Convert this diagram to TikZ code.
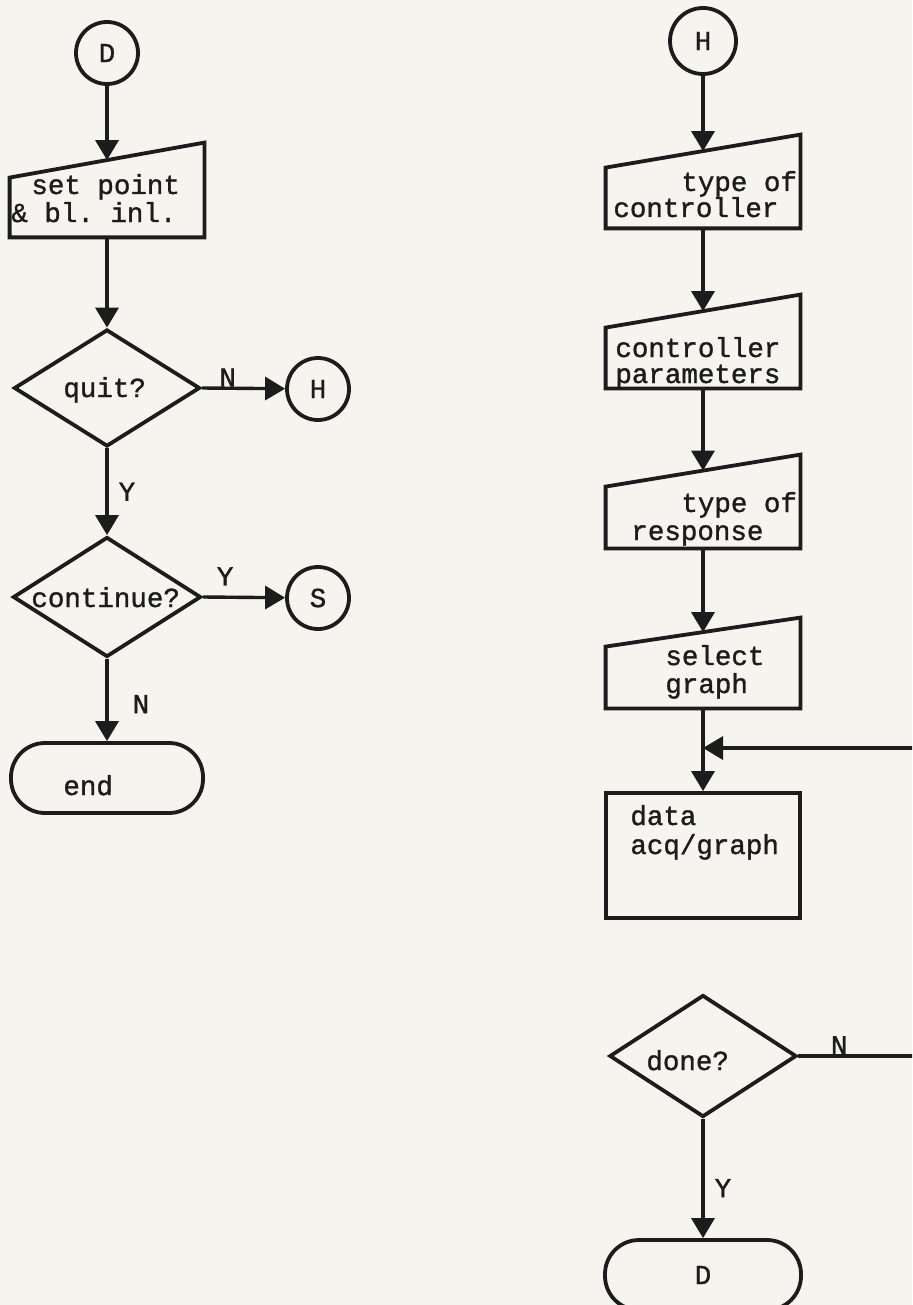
\documentclass[tikz,border=0pt]{standalone}
\usepackage{fontspec}
\usetikzlibrary{shapes.geometric,arrows.meta,calc}
\newfontfamily\typewriter{Liberation Mono}[FakeBold=1.2]
\definecolor{paper}{RGB}{245,244,238}
\definecolor{ink}{RGB}{28,28,28}
\begin{document}
\begin{tikzpicture}[x=0.5pt,y=-0.5pt,
  tw/.style={font=\typewriter\fontsize{13.75pt}{13.5pt}\selectfont, text=ink},
  conn/.style={draw=ink, line width=1.7pt, -{Triangle[length=10pt,width=11.5pt]}},
  shp/.style={draw=ink, line width=1.9pt},
  connector/.style={shp, circle, inner sep=0, minimum size=31pt, tw},
  decision/.style={shp, diamond, inner sep=0},
  terminal/.style={shp, rectangle, rounded corners=17pt, inner sep=0,
                   minimum width=96pt, minimum height=35pt, tw},
  inbox/.style={rectangle, inner sep=0, minimum width=97pt},
  txt/.style={tw, inner sep=0, anchor=base west},
  lbl/.style={tw, inner sep=0}]

% page
\fill[paper] (0,0) rectangle (912,1305);
\useasboundingbox (0,0) rectangle (912,1305);
\clip (0,0) rectangle (912,1305);

% ---------------- left column ----------------
\node[connector] (cD) at (107,53) {D};

% manual input: set point
\node[inbox, minimum height=29.5pt] (t0) at (107,207.5) {};
\draw[shp] (t0.south west) -- (t0.south east) -- ($(t0.north east)+(0,-35)$)
  -- (t0.north west) -- cycle;
\coordinate (t0in) at ($(t0.north)+(0,-17.5)$);
\node[txt] (t0a) at (31,194) {set point};
\node[txt] (t0b) at (11,222) {\&\ bl.\ inl.};

\node[decision, minimum width=93pt, minimum height=58.5pt] (quit) at (107,388) {};
\node[txt] (quitt) at (63,397) {quit?};
\node[connector] (cH1) at (318,389) {H};

\node[decision, minimum width=94pt, minimum height=60pt] (cont) at (107,597) {};
\node[txt] (contt) at (31,607) {continue?};
\node[connector] (cS) at (318,598) {S};

\node[terminal] (endT) at (107,778) {};
\node[txt] (endt) at (63,795) {end};

\draw[conn] (cD) -- (t0in);
\draw[conn] (t0.south) -- (quit.north);
\draw[conn] (quit.east) -- node[lbl, pos=0.31, anchor=south] {N} (cH1);
\draw[conn] (quit.south) -- node[lbl, pos=0.5, anchor=west, xshift=5pt] {Y} (cont.north);
\draw[conn] (cont.east) -- node[lbl, pos=0.27, anchor=south, yshift=5pt] {Y} (cS);
\draw[conn] (cont.south) -- node[lbl, pos=0.55, anchor=west, xshift=12pt] {N} (endT.north);

% ---------------- right column ----------------
\node[connector, minimum size=33pt] (cH2) at (703,41) {H};

% manual input: type of controller
\node[inbox, minimum height=30pt] (t1) at (703,198) {};
\draw[shp] (t1.south west) -- (t1.south east) -- ($(t1.north east)+(0,-33)$)
  -- (t1.north west) -- cycle;
\coordinate (t1in) at ($(t1.north)+(0,-16.5)$);
\node[txt] (t1a) at (681,191) {type of};
\node[txt] (t1b) at (613,217) {controller};

% manual input: controller parameters
\node[inbox, minimum height=30pt] (t2) at (703,358) {};
\draw[shp] (t2.south west) -- (t2.south east) -- ($(t2.north east)+(0,-33)$)
  -- (t2.north west) -- cycle;
\coordinate (t2in) at ($(t2.north)+(0,-16.5)$);
\node[txt] (t2a) at (615,357) {controller};
\node[txt] (t2b) at (615,383) {parameters};

% manual input: type of response
\node[inbox, minimum height=30.5pt] (t3) at (703,517.5) {};
\draw[shp] (t3.south west) -- (t3.south east) -- ($(t3.north east)+(0,-32)$)
  -- (t3.north west) -- cycle;
\coordinate (t3in) at ($(t3.north)+(0,-16)$);
\node[txt] (t3a) at (681,512) {type of};
\node[txt] (t3b) at (631,540) {response};

% manual input: select graph
\node[inbox, minimum height=30.5pt] (t4) at (703,677.5) {};
\draw[shp] (t4.south west) -- (t4.south east) -- ($(t4.north east)+(0,-29)$)
  -- (t4.north west) -- cycle;
\coordinate (t4in) at ($(t4.north)+(0,-14.5)$);
\node[txt] (t4a) at (665,665) {select};
\node[txt] (t4b) at (665,693) {graph};

\coordinate (jn) at (703,748);
\coordinate (rx) at (930,0);

\node[shp, rectangle, inner sep=0, minimum width=97pt, minimum height=62.5pt] (dat) at (703,855.5) {};
\node[txt] (data) at (630,825) {data};
\node[txt] (datb) at (630,854) {acq/graph};

\node[decision, minimum width=93.5pt, minimum height=61pt] (done) at (703,1056) {};
\node[txt] (donet) at (646,1070) {done?};

\node[terminal, minimum width=98pt] (dT) at (703,1275) {D};

\draw[conn] (cH2) -- (t1in);
\draw[conn] (t1.south) -- (t2in);
\draw[conn] (t2.south) -- (t3in);
\draw[conn] (t3.south) -- (t4in);
\draw[conn] (t4.south) -- (dat.north);
\draw[conn] (done.south) -- node[lbl, pos=0.58, anchor=west, xshift=5pt] {Y} (dT.north);
\draw[conn] (done.east) -- node[lbl, pos=0.31, anchor=south] {N} (done.east -| rx)
  |- (jn);
\end{tikzpicture}
\end{document}
